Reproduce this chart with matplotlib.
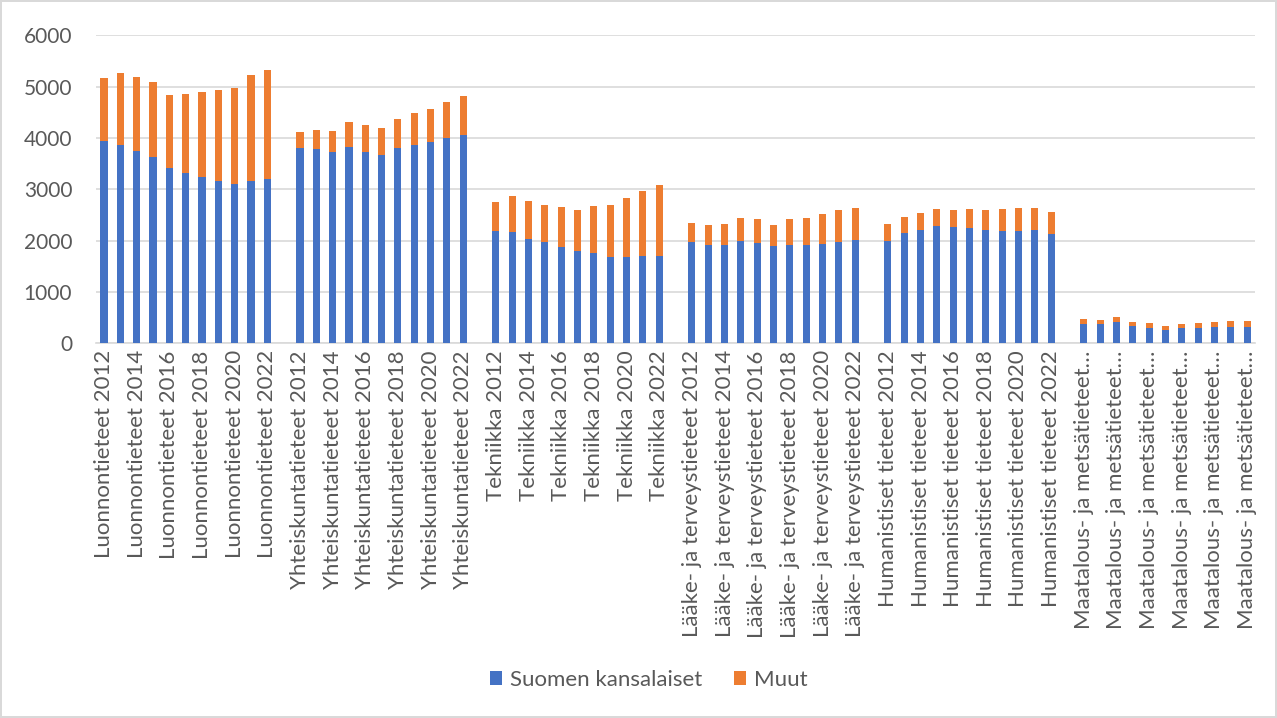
import numpy as np
import matplotlib
matplotlib.use("Agg")
import matplotlib.pyplot as plt

# Fields and years (an empty slot sits between fields, as in the original chart)
fields = ["Luonnontieteet", "Yhteiskuntatieteet", "Tekniikka",
          "Lääke- ja terveystieteet", "Humanistiset tieteet",
          "Maatalous- ja metsätieteet"]
years = list(range(2012, 2023))

# Finnish citizens, per field, years 2012-2022
suomi = [
    [3947, 3869, 3752, 3635, 3414, 3323, 3238, 3166, 3101, 3166, 3199],
    [3799, 3786, 3715, 3831, 3728, 3663, 3793, 3870, 3923, 4000, 4046],
    [2195, 2175, 2033, 1974, 1883, 1805, 1766, 1688, 1688, 1701, 1708],
    [1974, 1916, 1916, 1994, 1955, 1896, 1916, 1916, 1935, 1981, 2007],
    [1994, 2144, 2209, 2275, 2255, 2235, 2196, 2190, 2190, 2196, 2118],
    [383, 370, 416, 338, 305, 266, 305, 305, 318, 325, 325],
]
# Totals (top of the stacked bar)
total = [
    [5163, 5254, 5176, 5085, 4837, 4850, 4890, 4928, 4974, 5234, 5319],
    [4111, 4156, 4130, 4305, 4241, 4195, 4358, 4481, 4565, 4702, 4825],
    [2753, 2864, 2766, 2701, 2650, 2598, 2669, 2701, 2831, 2974, 3072],
    [2340, 2307, 2320, 2444, 2418, 2307, 2418, 2438, 2510, 2595, 2627],
    [2320, 2464, 2536, 2614, 2601, 2614, 2595, 2614, 2641, 2627, 2556],
    [481, 461, 520, 416, 390, 338, 383, 390, 416, 435, 435],
]

BLUE = "#4472C4"
ORANGE = "#ED7D31"
GREY = "#595959"

# build the category list with gaps
labels, blue, orange = [], [], []
for i, f in enumerate(fields):
    if i > 0:
        labels.append("")
        blue.append(np.nan)
        orange.append(np.nan)
    for j, y in enumerate(years):
        if f.startswith("Maatalous"):
            labels.append(f + "…")
        else:
            labels.append(f"{f} {y}")
        blue.append(suomi[i][j])
        orange.append(total[i][j] - suomi[i][j])

x = np.arange(len(labels))
blue = np.array(blue, dtype=float)
orange = np.array(orange, dtype=float)

plt.rcParams["font.family"] = ["Lato", "DejaVu Sans"]

fig = plt.figure(figsize=(12.77, 7.18), dpi=100)
fig.patch.set_edgecolor("#D9D9D9")
fig.patch.set_linewidth(1.5)
ax = fig.add_axes([0.075, 0.522, 0.908, 0.429])

w = 0.44
ax.bar(x, blue, w, color=BLUE, label="Suomen kansalaiset", zorder=3)
ax.bar(x, orange, w, bottom=blue, color=ORANGE, label="Muut", zorder=3)

ax.set_xlim(-0.5, len(labels) - 0.5)
ax.set_ylim(0, 6000)
ax.set_yticks(range(0, 6001, 1000))
ax.yaxis.grid(True, color="#D9D9D9", linewidth=1.2, zorder=0)
ax.tick_params(axis="y", length=0, labelsize=15, colors=GREY, pad=17)

ax.set_xticks(x[::2])
ax.set_xticklabels(labels[::2], rotation=90, fontsize=16, color=GREY)
ax.tick_params(axis="x", length=0, pad=5)

for s in ["top", "right", "left"]:
    ax.spines[s].set_visible(False)
ax.spines["bottom"].set_color("#D9D9D9")
ax.spines["bottom"].set_linewidth(1.2)

fig.legend(loc="center", bbox_to_anchor=(0.508, 0.053), ncol=2, frameon=False,
           fontsize=16, handlelength=0.55, handleheight=0.55, handletextpad=0.35,
           columnspacing=1.4, labelcolor=GREY)

fig.savefig("out.png", dpi=100, edgecolor=fig.get_edgecolor())
